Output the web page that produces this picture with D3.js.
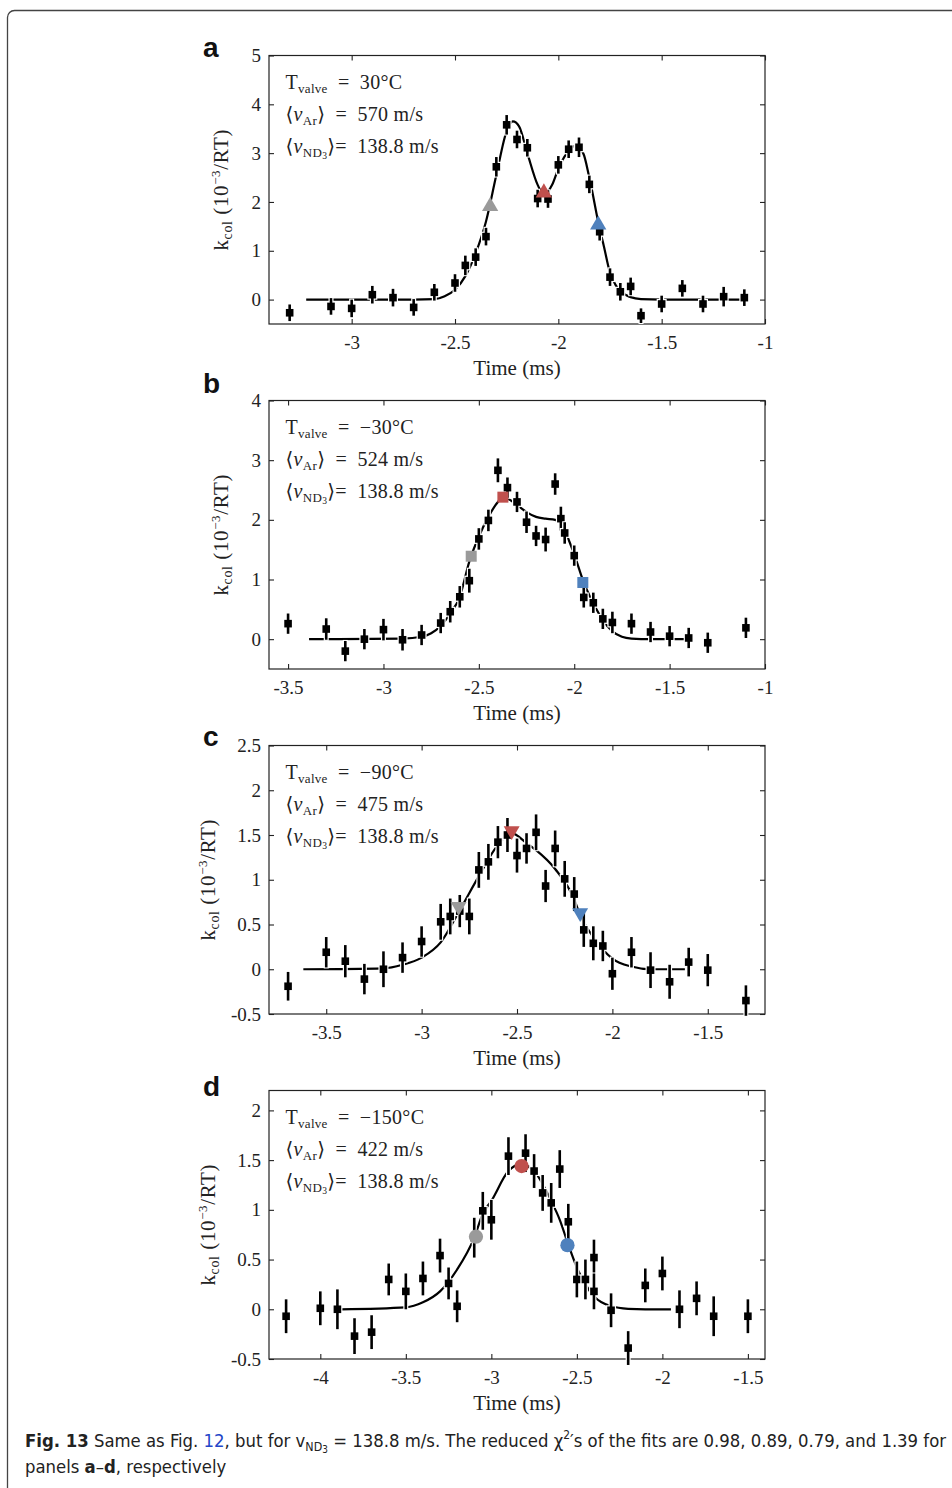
<!DOCTYPE html>
<html>
<head>
<meta charset="utf-8">
<script src="https://cdn.jsdelivr.net/npm/d3@7"></script>
<style>
  body { margin: 0; background: #fff; }
  svg { display: block; }
</style>
</head>
<body>
<div id="vis-holder"></div>
<script>
// ---- data ----

// panel a, T_valve = 30 C
const timeA = [-3.3, -3.1, -3.0, -2.9, -2.8, -2.7, -2.6, -2.5, -2.45, -2.4, -2.35, -2.3, -2.25, -2.2, -2.15, -2.1, -2.05, -2.0, -1.95, -1.9, -1.85, -1.8, -1.75, -1.7, -1.65, -1.6, -1.5, -1.4, -1.3, -1.2, -1.1];
const kA = [-0.27, -0.14, -0.18, 0.10, 0.04, -0.16, 0.15, 0.34, 0.70, 0.87, 1.29, 2.72, 3.58, 3.28, 3.11, 2.07, 2.06, 2.76, 3.08, 3.12, 2.36, 1.39, 0.46, 0.16, 0.27, -0.33, -0.09, 0.23, -0.09, 0.06, 0.04];
const errA = [0.17, 0.17, 0.18, 0.18, 0.18, 0.17, 0.17, 0.18, 0.2, 0.18, 0.18, 0.2, 0.2, 0.18, 0.18, 0.18, 0.18, 0.18, 0.18, 0.2, 0.18, 0.18, 0.18, 0.18, 0.18, 0.15, 0.17, 0.17, 0.17, 0.2, 0.17];
const fitTimeA = [-3.22, -2.7, -2.6, -2.55, -2.5, -2.45, -2.4, -2.35, -2.3, -2.25, -2.22, -2.19, -2.15, -2.1, -2.07, -2.03, -2.0, -1.95, -1.92, -1.88, -1.85, -1.8, -1.78, -1.75, -1.72, -1.7, -1.65, -1.6, -1.5, -1.1];
const fitKA = [0, 0, 0.01, 0.07, 0.2, 0.48, 0.95, 1.6, 2.55, 3.45, 3.65, 3.55, 3.0, 2.35, 2.15, 2.35, 2.68, 3.05, 3.15, 3.0, 2.5, 1.45, 1.1, 0.55, 0.28, 0.17, 0.05, 0.01, 0, 0];
const markTimeA = [-2.33, -2.07, -1.807];
const markKA = [1.91, 2.19, 1.53];

// panel b, T_valve = -30 C
const timeB = [-3.5, -3.3, -3.2, -3.1, -3.0, -2.9, -2.8, -2.7, -2.65, -2.6, -2.55, -2.5, -2.45, -2.4, -2.35, -2.3, -2.25, -2.2, -2.15, -2.1, -2.07, -2.05, -2.0, -1.95, -1.9, -1.85, -1.8, -1.7, -1.6, -1.5, -1.4, -1.3, -1.1];
const kB = [0.26, 0.17, -0.20, 0.0, 0.16, -0.01, 0.07, 0.27, 0.46, 0.71, 0.98, 1.68, 1.99, 2.83, 2.54, 2.30, 1.96, 1.73, 1.67, 2.60, 2.02, 1.78, 1.40, 0.70, 0.61, 0.34, 0.28, 0.26, 0.12, 0.05, 0.02, -0.06, 0.19];
const errB = [0.17, 0.18, 0.17, 0.17, 0.18, 0.18, 0.17, 0.17, 0.18, 0.18, 0.2, 0.18, 0.18, 0.2, 0.17, 0.17, 0.18, 0.17, 0.2, 0.18, 0.2, 0.18, 0.17, 0.17, 0.17, 0.17, 0.18, 0.17, 0.17, 0.17, 0.17, 0.17, 0.17];
const fitTimeB = [-3.39, -2.9, -2.8, -2.75, -2.7, -2.65, -2.6, -2.55, -2.5, -2.45, -2.4, -2.37, -2.33, -2.3, -2.25, -2.2, -2.15, -2.1, -2.07, -2.04, -2.0, -1.95, -1.9, -1.85, -1.8, -1.75, -1.7, -1.6, -1.4];
const fitKB = [0, 0.01, 0.04, 0.1, 0.22, 0.43, 0.71, 1.3, 1.72, 2.05, 2.3, 2.38, 2.32, 2.25, 2.13, 2.05, 2.02, 2.0, 1.95, 1.75, 1.42, 0.95, 0.6, 0.32, 0.13, 0.04, 0.01, 0, 0];
const markTimeB = [-2.54, -2.374, -1.955];
const markKB = [1.39, 2.38, 0.95];

// panel c, T_valve = -90 C
const timeC = [-3.7, -3.5, -3.4, -3.3, -3.2, -3.1, -3.0, -2.9, -2.85, -2.8, -2.75, -2.7, -2.65, -2.6, -2.55, -2.5, -2.45, -2.4, -2.35, -2.3, -2.25, -2.2, -2.15, -2.1, -2.05, -2.0, -1.9, -1.8, -1.7, -1.6, -1.5, -1.3];
const kC = [-0.19, 0.19, 0.09, -0.11, 0.0, 0.13, 0.31, 0.53, 0.59, 0.65, 0.59, 1.11, 1.20, 1.42, 1.50, 1.27, 1.35, 1.53, 0.93, 1.35, 1.01, 0.84, 0.44, 0.29, 0.26, -0.05, 0.19, -0.01, -0.14, 0.08, -0.01, -0.35];
const errC = [0.16, 0.17, 0.18, 0.17, 0.2, 0.17, 0.17, 0.2, 0.2, 0.18, 0.2, 0.2, 0.2, 0.18, 0.19, 0.19, 0.17, 0.2, 0.18, 0.2, 0.2, 0.19, 0.19, 0.19, 0.17, 0.18, 0.17, 0.2, 0.19, 0.16, 0.18, 0.17];
const fitTimeC = [-3.62, -3.2, -3.1, -3.0, -2.9, -2.8, -2.7, -2.6, -2.53, -2.45, -2.4, -2.3, -2.2, -2.17, -2.1, -2.0, -1.9, -1.8, -1.62];
const fitKC = [0, 0.01, 0.05, 0.13, 0.3, 0.66, 1.04, 1.39, 1.52, 1.41, 1.33, 1.12, 0.78, 0.61, 0.36, 0.12, 0.03, 0, 0];
const markTimeC = [-2.806, -2.528, -2.169];
const markKC = [0.70, 1.546, 0.63];

// panel d, T_valve = -150 C
const timeD = [-4.2, -4.0, -3.9, -3.8, -3.7, -3.6, -3.5, -3.4, -3.3, -3.25, -3.2, -3.1, -3.05, -3.0, -2.9, -2.8, -2.75, -2.7, -2.65, -2.6, -2.55, -2.5, -2.45, -2.4, -2.4, -2.3, -2.2, -2.1, -2.0, -1.9, -1.8, -1.7, -1.5];
const kD = [-0.07, 0.01, 0.0, -0.27, -0.23, 0.30, 0.18, 0.31, 0.54, 0.26, 0.03, 0.72, 0.99, 0.90, 1.54, 1.57, 1.39, 1.17, 1.07, 1.41, 0.88, 0.30, 0.30, 0.52, 0.18, -0.01, -0.39, 0.24, 0.36, 0.0, 0.11, -0.07, -0.07];
const errD = [0.17, 0.17, 0.2, 0.18, 0.17, 0.16, 0.18, 0.17, 0.17, 0.16, 0.16, 0.2, 0.19, 0.2, 0.19, 0.19, 0.17, 0.18, 0.2, 0.19, 0.18, 0.18, 0.2, 0.18, 0.18, 0.17, 0.17, 0.17, 0.17, 0.19, 0.17, 0.2, 0.17];
const fitTimeD = [-3.88, -3.5, -3.4, -3.3, -3.2, -3.1, -3.05, -3.0, -2.9, -2.83, -2.75, -2.7, -2.65, -2.6, -2.55, -2.5, -2.45, -2.4, -2.3, -2.2, -2.1, -1.95];
const fitKD = [0, 0.02, 0.07, 0.18, 0.4, 0.72, 0.96, 1.09, 1.39, 1.46, 1.39, 1.26, 1.09, 0.9, 0.65, 0.42, 0.25, 0.13, 0.03, 0.005, 0, 0];
const markTimeD = [-3.09, -2.823, -2.555];
const markKD = [0.73, 1.44, 0.645];

// axes
const xDomains = [[-3.4, -1], [-3.6, -1], [-3.8, -1.2], [-4.3, -1.4]];
const yDomains = [[-0.5, 5], [-0.5, 4], [-0.5, 2.5], [-0.5, 2.2]];
const xTicks = [[-3, -2.5, -2, -1.5, -1], [-3.5, -3, -2.5, -2, -1.5, -1], [-3.5, -3, -2.5, -2, -1.5], [-4, -3.5, -3, -2.5, -2, -1.5]];
const yTicks = [[0, 1, 2, 3, 4, 5], [0, 1, 2, 3, 4], [-0.5, 0, 0.5, 1, 1.5, 2, 2.5], [-0.5, 0, 0.5, 1, 1.5, 2]];

// annotation values
const panelLetters = ["a", "b", "c", "d"];
const valveTemps = ["30", "\u221230", "\u221290", "\u2212150"];
const argonSpeeds = ["570", "524", "475", "422"];
const ammoniaSpeed = "138.8";
const markColors = ["#9a9a9a", "#c0504d", "#4f81bd"];

// ---- layout ----
const W = 952, H = 1488;
const plotLeft = 269, plotWidth = 496, plotHeight = 268.5;
const panelTops = [55.5, 400.5, 745.5, 1090.5];
const letterBase = [57, 393, 746, 1096];
const titleX = [-41, -41, -54, -54];
const serif = "'Liberation Serif', 'DejaVu Serif', serif";
const sp = "\u2002";

const svg = d3.select("#vis-holder")
  .append("svg")
  .attr("width", W)
  .attr("height", H);

// page frame (open on the right and bottom)
svg.append("rect")
  .attr("x", 7.5).attr("y", 10.5)
  .attr("width", 1000).attr("height", 1600)
  .attr("rx", 7)
  .attr("fill", "none")
  .attr("stroke", "#444")
  .attr("stroke-width", 1.3);

// text with sub/superscripts, parts: {t, f (size), s (shift), i (italic), b (bold), c (color)}
function richText(sel, parts, fs) {
  let shift = 0;
  parts.forEach(p => {
    const s = p.s || 0;
    sel.append("tspan")
      .attr("dy", s - shift)
      .attr("font-size", p.f || fs)
      .attr("font-style", p.i ? "italic" : null)
      .attr("font-weight", p.b ? "bold" : null)
      .attr("fill", p.c || null)
      .text(p.t);
    shift = s;
  });
}

const panels = [
  { time: timeA, k: kA, err: errA, fitT: fitTimeA, fitK: fitKA, mT: markTimeA, mK: markKA, shape: "up" },
  { time: timeB, k: kB, err: errB, fitT: fitTimeB, fitK: fitKB, mT: markTimeB, mK: markKB, shape: "square" },
  { time: timeC, k: kC, err: errC, fitT: fitTimeC, fitK: fitKC, mT: markTimeC, mK: markKC, shape: "down" },
  { time: timeD, k: kD, err: errD, fitT: fitTimeD, fitK: fitKD, mT: markTimeD, mK: markKD, shape: "circle" }
];

panels.forEach((p, i) => {
  const g = svg.append("g").attr("transform", `translate(${plotLeft},${panelTops[i]})`);

  const x = d3.scaleLinear().domain(xDomains[i]).range([0, plotWidth]);
  const y = d3.scaleLinear().domain(yDomains[i]).range([plotHeight, 0]);

  // inward ticks on all four sides
  const styleAxis = (a) => {
    a.select(".domain").remove();
    a.selectAll(".tick line").attr("stroke", "#222").attr("stroke-width", 1.1);
    a.selectAll("text").attr("font-family", serif).attr("font-size", 19).attr("fill", "#222");
  };
  g.append("g")
    .attr("transform", `translate(0,${plotHeight})`)
    .call(d3.axisBottom(x).tickValues(xTicks[i]).tickSize(-5).tickPadding(12).tickFormat(d => String(d)))
    .call(styleAxis);
  g.append("g")
    .call(d3.axisTop(x).tickValues(xTicks[i]).tickSize(-5).tickFormat(""))
    .call(styleAxis);
  g.append("g")
    .call(d3.axisLeft(y).tickValues(yTicks[i]).tickSize(-5).tickPadding(8).tickFormat(d => String(d)))
    .call(styleAxis);
  g.append("g")
    .attr("transform", `translate(${plotWidth},0)`)
    .call(d3.axisRight(y).tickValues(yTicks[i]).tickSize(-5).tickFormat(""))
    .call(styleAxis);

  g.append("rect")
    .attr("width", plotWidth).attr("height", plotHeight)
    .attr("fill", "none").attr("stroke", "#222").attr("stroke-width", 1.2);

  // fit curve
  const fit = p.fitT.map((t, j) => [t, p.fitK[j]]);
  g.append("path")
    .datum(fit)
    .attr("d", d3.line().x(d => x(d[0])).y(d => y(d[1])).curve(d3.curveMonotoneX))
    .attr("fill", "none")
    .attr("stroke", "#000")
    .attr("stroke-width", 2.2);

  // data points with error bars (white halo breaks the fit line)
  const pts = p.time.map((t, j) => ({ t: t, k: p.k[j], e: p.err[j] }));
  const pg = g.selectAll(".pt")
    .data(pts)
    .enter()
    .append("g")
    .attr("class", "pt");
  pg.append("line")
    .attr("x1", d => x(d.t)).attr("x2", d => x(d.t))
    .attr("y1", d => y(d.k - d.e) + 1).attr("y2", d => y(d.k + d.e) - 1)
    .attr("stroke", "#fff").attr("stroke-width", 5);
  pg.append("rect")
    .attr("x", d => x(d.t) - 5).attr("y", d => y(d.k) - 5)
    .attr("width", 10).attr("height", 10)
    .attr("fill", "#fff");
  pg.append("line")
    .attr("x1", d => x(d.t)).attr("x2", d => x(d.t))
    .attr("y1", d => y(d.k - d.e)).attr("y2", d => y(d.k + d.e))
    .attr("stroke", "#000").attr("stroke-width", 2.6);
  pg.append("rect")
    .attr("x", d => x(d.t) - 3.8).attr("y", d => y(d.k) - 3.8)
    .attr("width", 7.6).attr("height", 7.6)
    .attr("fill", "#000");

  // coloured markers
  const symType = { up: d3.symbolTriangle, down: d3.symbolTriangle, square: d3.symbolSquare, circle: d3.symbolCircle }[p.shape];
  const symSize = { up: 115, down: 110, square: 121, circle: 160 }[p.shape];
  const rot = p.shape === "down" ? 180 : 0;
  g.selectAll(".mark")
    .data(p.mT.map((t, j) => ({ t: t, k: p.mK[j], c: markColors[j] })))
    .enter()
    .append("path")
    .attr("class", "mark")
    .attr("d", d3.symbol().type(symType).size(symSize))
    .attr("transform", d => `translate(${x(d.t)},${y(d.k)}) rotate(${rot})`)
    .attr("fill", d => d.c);

  // annotation
  const fs = 20;
  const ann = (yy) => g.append("text").attr("x", 16.5).attr("y", yy)
    .attr("font-family", serif).attr("font-size", fs).attr("letter-spacing", 0.3).attr("fill", "#222");
  richText(ann(33), [{ t: "T" }, { t: "valve", f: 13, s: 4 }, { t: sp + "=" + sp + valveTemps[i] + "\u00B0C" }], fs);
  richText(ann(65), [{ t: "\u27E8" }, { t: "v", i: 1 }, { t: "Ar", f: 13, s: 4 }, { t: "\u27E9" + sp + "=" + sp + argonSpeeds[i] + " m/s" }], fs);
  richText(ann(97), [{ t: "\u27E8" }, { t: "v", i: 1 }, { t: "ND", f: 13, s: 4 }, { t: "3", f: 9.5, s: 6 }, { t: "\u27E9=" + sp + ammoniaSpeed + " m/s" }], fs);

  // axis titles
  g.append("text")
    .attr("x", plotWidth / 2).attr("y", plotHeight + 51)
    .attr("text-anchor", "middle")
    .attr("font-family", serif).attr("font-size", 21).attr("fill", "#222")
    .text("Time (ms)");
  const yt = g.append("text")
    .attr("transform", `translate(${titleX[i]},${plotHeight / 2}) rotate(-90)`)
    .attr("text-anchor", "middle")
    .attr("font-family", serif).attr("font-size", 21).attr("letter-spacing", 0.6).attr("fill", "#222");
  richText(yt, [{ t: "k" }, { t: "col", f: 14, s: 4 }, { t: " (10" }, { t: "\u22123", f: 13, s: -8 }, { t: "/RT)" }], 21);

  // panel letter
  svg.append("text")
    .attr("x", 203).attr("y", letterBase[i])
    .attr("font-family", "'Liberation Sans', Arial, sans-serif")
    .attr("font-weight", "bold").attr("font-size", 28)
    .attr("fill", "#111")
    .text(panelLetters[i]);
});

// caption
const capFont = "'Liberation Sans Narrow', 'DejaVu Sans Condensed', 'Roboto Condensed', 'Liberation Sans', sans-serif";
const cap = svg.append("g").attr("transform", "translate(25,0)");
const c1 = cap.append("text").attr("x", 0).attr("y", 1447)
  .attr("font-family", capFont).attr("font-size", 18.5).attr("fill", "#222");
richText(c1, [
  { t: "Fig. 13", b: 1 }, { t: "  Same as Fig. " }, { t: "12", c: "#2346c8" }, { t: ", but for v" },
  { t: "ND", f: 12.5, s: 4 }, { t: "3", f: 10, s: 6 }, { t: " = 138.8 m/s. The reduced \u03C7" },
  { t: "2", f: 12, s: -8 }, { t: "\u2032s of the fits are 0.98, 0.89, 0.79, and 1.39 for" }
], 18.5);
const c2 = cap.append("text").attr("x", 0).attr("y", 1473)
  .attr("font-family", capFont).attr("font-size", 18.5).attr("fill", "#222");
richText(c2, [{ t: "panels " }, { t: "a", b: 1 }, { t: "\u2013" }, { t: "d", b: 1 }, { t: ", respectively" }], 18.5);

// squeeze the caption to the width it takes in the figure
const capW = c1.node().getComputedTextLength();
const sx = 922 / capW;
cap.attr("transform", `translate(25,0) scale(${sx},1)`);
</script>
</body>
</html>
